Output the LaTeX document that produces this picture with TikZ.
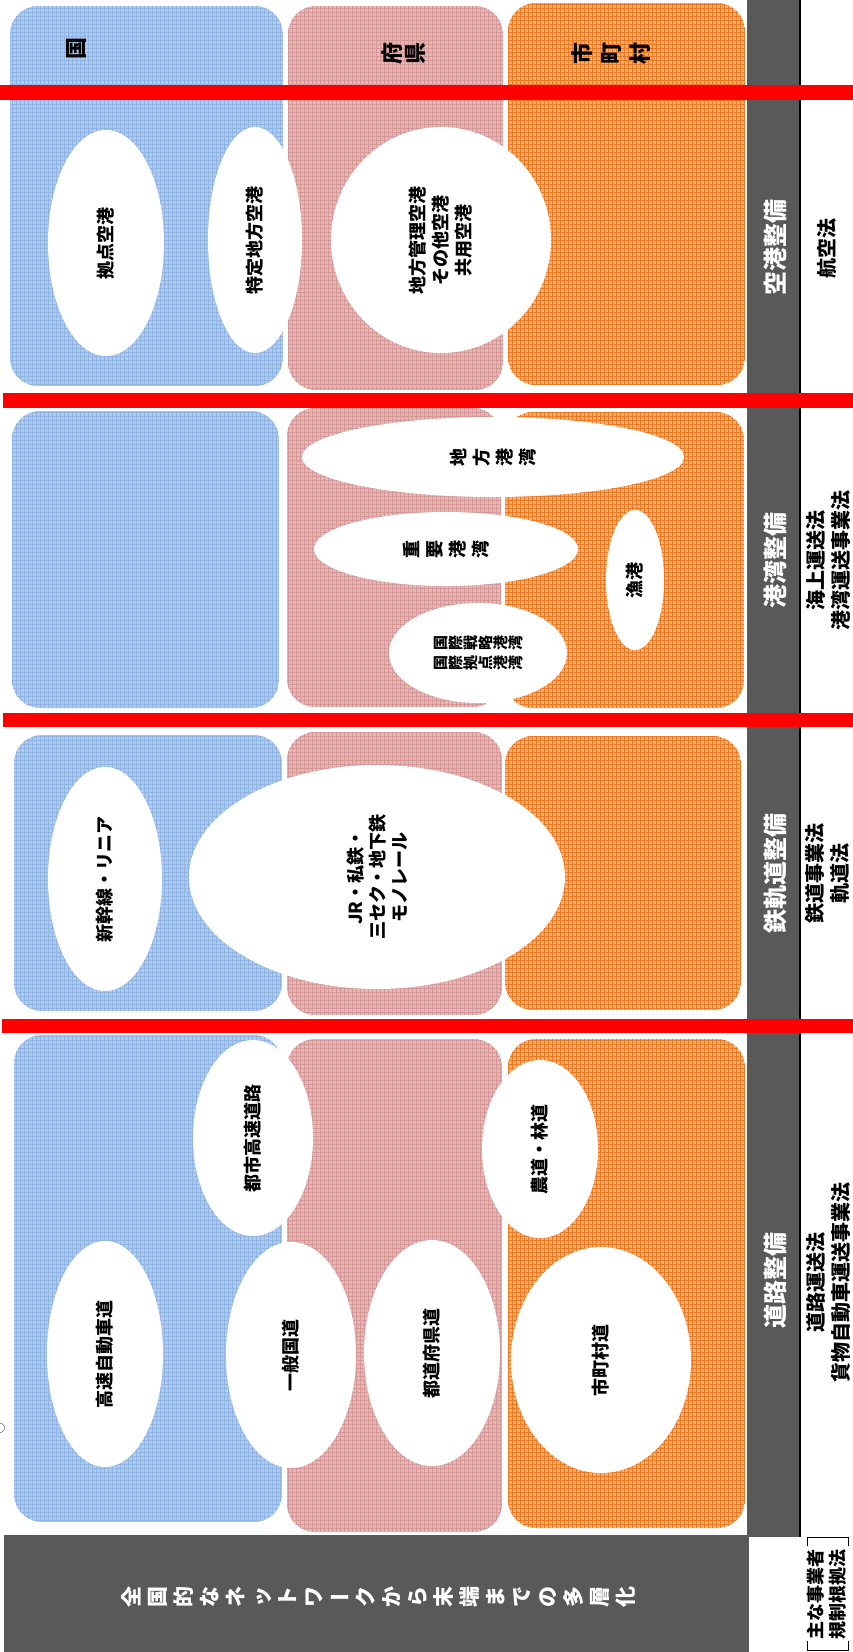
\documentclass[tikz,border=0pt]{standalone}
\usepackage{fontspec}
\usepackage{graphicx}
\newfontfamily\jpfont{Noto Sans CJK JP}
\usetikzlibrary{shapes.geometric}

\definecolor{kuniF}{HTML}{AECBEF}
\definecolor{kuniL}{HTML}{90B4E3}
\definecolor{kenF}{HTML}{E6B6B6}
\definecolor{kenL}{HTML}{D69797}
\definecolor{shiF}{HTML}{F8AC6A}
\definecolor{shiL}{HTML}{EA7A24}
\definecolor{darkG}{HTML}{595959}

% vertical writing laid on its side: each character turned, ー kept flat
\newlength\tategap
\newcommand\tatetext[2][0pt]{\setlength\tategap{#1}\kern-\tategap\tateloop#2\relax}
\def\tateloop#1{\ifx#1\relax\else\kern\tategap\tatechar{#1}\expandafter\tateloop\fi}
\newcommand\tatechar[1]{\ifx#1ー\raisebox{.12em}{ー}\else
  \rotatebox{90}{\rule[-.12em]{0pt}{1em}\smash{#1}}\fi}

% gridded area with round corners: fill, grid colour, corner, corner
\newcommand\areabox[4]{%
  \begin{scope}
    \clip[rounded corners=28pt] #3 rectangle #4;
    \fill[#1] #3 rectangle #4;
    \draw[#2, line width=.45pt, step=4pt] #3 grid #4;
  \end{scope}}

\begin{document}
\begin{tikzpicture}[x=1pt, y=-1pt,
  oval/.style={ellipse, fill=white, inner sep=0pt, align=center,
               font={\jpfont\bfseries\fontsize{18}{23}\selectfont}},
  head/.style={font={\jpfont\bfseries\fontsize{22}{22}\selectfont}},
  darkbar/.style={fill=darkG},
  redbar/.style={fill=red},
  sect/.style={rotate=90, text=white, font={\jpfont\bfseries\fontsize{24}{24}\selectfont}},
  law/.style={rotate=90, align=center, font={\jpfont\bfseries\fontsize{20}{25}\selectfont}}]
  \useasboundingbox (0,0) rectangle (853,1652);

  % 空港
  \areabox{kuniF}{kuniL}{(10,6)}{(283,386)}
  \areabox{kenF}{kenL}{(288,6)}{(503,390)}
  \areabox{shiF}{shiL}{(508,3)}{(745,385)}
  \node[head] (kuni) at (76,48) {\tatetext{国}};
  \node[head] (fuken) at (404,53) {\tatetext[1pt]{府県}};
  \node[head] (shichoson) at (611,53) {\tatetext[7pt]{市町村}};
  \node[oval, rotate=90, minimum width=226, minimum height=116] (kyoten) at (106,243) {拠点空港};
  \node[oval, rotate=90, minimum width=226, minimum height=94] (tokutei) at (255,240) {特定地方空港};
  \node[oval, rotate=90, minimum width=226, minimum height=220] (chihokuko) at (441,240)
    {地方管理空港\\その他空港\\共用空港};

  % 港湾
  \areabox{kuniF}{kuniL}{(12,411)}{(279,708)}
  \areabox{kenF}{kenL}{(287,408)}{(501,707)}
  \areabox{shiF}{shiL}{(505,412)}{(744,708)}
  \node[oval, minimum width=382, minimum height=80] (chihokowan) at (493,457) {\tatetext[5pt]{地方港湾}};
  \node[oval, minimum width=264, minimum height=74] (juyokowan) at (446,549) {\tatetext[5pt]{重要港湾}};
  \node[oval, rotate=90, minimum width=140, minimum height=58] (gyoko) at (635,580) {漁港};
  \node[oval, minimum width=178, minimum height=100, font={\jpfont\bfseries\fontsize{15}{20}\selectfont}]
    (kokusai) at (478,653) {\tatetext{国際戦略港湾}\\\tatetext{国際拠点港湾}};

  % 鉄軌道
  \areabox{kuniF}{kuniL}{(14,735)}{(282,1011)}
  \areabox{kenF}{kenL}{(287,732)}{(502,1015)}
  \areabox{shiF}{shiL}{(505,736)}{(741,1010)}
  \node[oval, rotate=90, minimum width=224, minimum height=114] (shinkansen) at (105,879) {新幹線・リニア};
  \node[oval, rotate=90, minimum width=224, minimum height=376, font={\jpfont\bfseries\fontsize{18}{22}\selectfont}]
    (shitetsu) at (377,877) {JR・私鉄・\\三セク・地下鉄\\モノレール};

  % 道路
  \areabox{kuniF}{kuniL}{(14,1035)}{(282,1522)}
  \areabox{kenF}{kenL}{(287,1039)}{(502,1532)}
  \areabox{shiF}{shiL}{(508,1039)}{(745,1528)}
  \node[oval, rotate=90, minimum width=196, minimum height=120] (toshikosoku) at (253,1138) {都市高速道路};
  \node[oval, rotate=90, minimum width=178, minimum height=116] (noudo) at (540,1149) {農道・林道};
  \node[oval, rotate=90, minimum width=226, minimum height=116] (kosokujido) at (105,1354) {高速自動車道};
  \node[oval, rotate=90, minimum width=226, minimum height=130] (ippankokudo) at (291,1355) {一般国道};
  \node[oval, rotate=90, minimum width=226, minimum height=136] (todofukendo) at (432,1353) {都道府県道};
  \node[oval, rotate=90, minimum width=226, minimum height=180] (shichosondo) at (601,1360) {市町村道};

  % 右の帯と下の帯
  \path[darkbar] (747,0) rectangle (800,1537);
  \draw[line width=1.5pt] (800,0) -- (800,1537);
  \path[darkbar] (4,1535) rectangle (749,1652);

  \node[sect] (kukoseibi) at (775,247) {空港整備};
  \node[sect] (kowanseibi) at (775,560) {港湾整備};
  \node[sect] (tetsukidoseibi) at (775,873) {鉄軌道整備};
  \node[sect] (doroseibi) at (775,1280) {道路整備};

  \node[law] (kokuho) at (827,248) {航空法};
  \node[law] (kaijoho) at (828,560) {海上運送法\\港湾運送事業法};
  \node[law] (tetsudoho) at (827,873) {鉄道事業法\\軌道法};
  \node[law] (dorounsoho) at (828,1282) {道路運送法\\貨物自動車運送事業法};

  \node[text=white, font={\jpfont\bfseries\fontsize{21}{21}\selectfont}] (tasoka) at (379,1597)
    {\tatetext[5pt]{全国的なネットワークから末端までの多層化}};

  \node[law, font={\jpfont\bfseries\fontsize{18}{22}\selectfont}] (kijun) at (827,1594) {主な事業者\\規制根拠法};
  \draw[thick] (807,1546) -- (807,1537) -- (848,1537) -- (848,1546);
  \draw[thick] (807,1641) -- (807,1650) -- (848,1650) -- (848,1641);

  \node[font={\jpfont\fontsize{11}{11}\selectfont}] (maru) at (0,1428) {○};

  % 区切り
  \path[redbar] (0,85) rectangle (853,100);
  \path[redbar] (3,393) rectangle (853,408);
  \path[redbar] (3,713) rectangle (853,727);
  \path[redbar] (2,1019) rectangle (853,1033);
\end{tikzpicture}
\end{document}
